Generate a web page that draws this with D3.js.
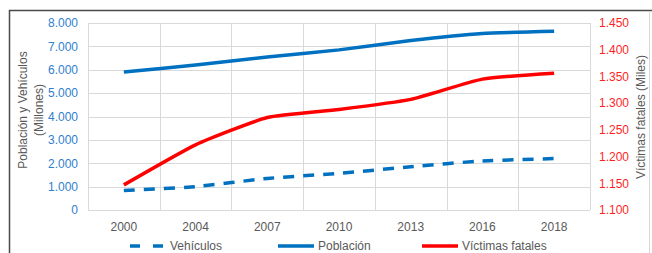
<!DOCTYPE html>
<html>
<head>
<meta charset="utf-8">
<script src="https://cdn.jsdelivr.net/npm/d3@7"></script>
<style>
  body { margin: 0; background: #fff; }
  svg text { font-family: "Liberation Sans", Arial, sans-serif; }
</style>
</head>
<body>
<script>
//////////////// data ////////////////
var years = ["2000", "2004", "2007", "2010", "2013", "2016", "2018"];
var vehiculos = [830, 1000, 1350, 1570, 1850, 2100, 2200];       // millones
var poblacion = [5900, 6200, 6550, 6850, 7250, 7550, 7650];      // millones
var victimas = [1147, 1222, 1273, 1288, 1307, 1345, 1356];       // miles
var leftTicks = [0, 1000, 2000, 3000, 4000, 5000, 6000, 7000, 8000];
var rightTicks = [1100, 1150, 1200, 1250, 1300, 1350, 1400, 1450];

var width = 652, height = 253;
var margin = {top: 23, right: 62, bottom: 43, left: 88};
var chartWidth = width - margin.left - margin.right;
var chartHeight = height - margin.top - margin.bottom;

var es = d3.formatLocale({decimal: ",", thousands: ".", grouping: [3], currency: ["", ""]});
var fmt = es.format(",");

var svg = d3.select("body").append("svg")
    .attr("width", width)
    .attr("height", height);

// outer frame like the screenshot
svg.append("path")
    .attr("d", "M9.5," + height + "V10.5H" + width)
    .attr("fill", "none")
    .attr("stroke", "#4a4a4a")
    .attr("stroke-width", 1.5);
svg.append("line")
    .attr("x1", 649.5).attr("x2", 649.5)
    .attr("y1", 11).attr("y2", height)
    .attr("stroke", "#d8d8d8");

var chartGroup = svg.append("g")
    .attr("transform", "translate(" + margin.left + "," + margin.top + ")");

var xScale = d3.scaleBand()
    .domain(years)
    .range([0, chartWidth]);

var yScale = d3.scaleLinear()
    .domain([0, 8000])
    .range([chartHeight, 0]);

var y2Scale = d3.scaleLinear()
    .domain([1100, 1450])
    .range([chartHeight, 0]);

// gridlines
chartGroup.append("g")
    .selectAll("line")
    .data(leftTicks)
    .enter().append("line")
    .attr("x1", 0).attr("x2", chartWidth)
    .attr("y1", function(d) { return Math.round(yScale(d)) + 0.5; })
    .attr("y2", function(d) { return Math.round(yScale(d)) + 0.5; })
    .attr("stroke", "#d9d9d9");

var vlines = d3.range(years.length + 1).map(function(i) { return i * xScale.step(); });
chartGroup.append("g")
    .selectAll("line")
    .data(vlines)
    .enter().append("line")
    .attr("x1", function(d) { return Math.round(d) + 0.5; })
    .attr("x2", function(d) { return Math.round(d) + 0.5; })
    .attr("y1", 0).attr("y2", chartHeight)
    .attr("stroke", "#d9d9d9");

// axes
var xAxis = d3.axisBottom(xScale).tickSize(0).tickPadding(12);
chartGroup.append("g")
    .attr("transform", "translate(0," + chartHeight + ")")
    .call(xAxis)
    .call(function(g) { g.select(".domain").remove(); })
    .selectAll("text")
    .attr("fill", "#595959")
    .style("font-size", "12px");

var yAxis = d3.axisLeft(yScale).tickValues(leftTicks).tickFormat(fmt).tickSize(0).tickPadding(10);
chartGroup.append("g")
    .call(yAxis)
    .call(function(g) { g.select(".domain").remove(); })
    .selectAll("text")
    .attr("fill", "#2f80cf")
    .style("font-size", "12px");

var y2Axis = d3.axisRight(y2Scale).tickValues(rightTicks).tickFormat(fmt).tickSize(0).tickPadding(9);
chartGroup.append("g")
    .attr("transform", "translate(" + chartWidth + ",0)")
    .call(y2Axis)
    .call(function(g) { g.select(".domain").remove(); })
    .selectAll("text")
    .attr("fill", "#ff1f1f")
    .style("font-size", "12px");

// axis titles
svg.append("text")
    .attr("transform", "translate(27,110) rotate(-90)")
    .attr("text-anchor", "middle")
    .attr("fill", "#595959")
    .style("font-size", "12px")
    .text("Población y Vehículos");
svg.append("text")
    .attr("transform", "translate(43,110) rotate(-90)")
    .attr("text-anchor", "middle")
    .attr("fill", "#595959")
    .style("font-size", "12px")
    .text("(Millones)");
svg.append("text")
    .attr("transform", "translate(645,117) rotate(-90)")
    .attr("text-anchor", "middle")
    .attr("fill", "#595959")
    .style("font-size", "12px")
    .text("Víctimas fatales (Miles)");

// lines
var xc = function(d, i) { return xScale(years[i]) + xScale.bandwidth() / 2; };
var leftLine = d3.line().x(xc).y(function(d) { return yScale(d); }).curve(d3.curveCardinal.tension(0.5));
var rightLine = d3.line().x(xc).y(function(d) { return y2Scale(d); }).curve(d3.curveCardinal.tension(0.5));

chartGroup.append("path")
    .attr("fill", "none")
    .attr("stroke", "#0070c0")
    .attr("stroke-width", 3.5)
    .attr("stroke-dasharray", "11,9")
    .attr("d", leftLine(vehiculos));

chartGroup.append("path")
    .attr("fill", "none")
    .attr("stroke", "#0070c0")
    .attr("stroke-width", 3.5)
    .attr("d", leftLine(poblacion));

chartGroup.append("path")
    .attr("fill", "none")
    .attr("stroke", "#ff0000")
    .attr("stroke-width", 3.5)
    .attr("d", rightLine(victimas));

// legend
var legendItems = [
    {name: "Vehículos", color: "#0070c0", dash: "10,13", x: 130},
    {name: "Población", color: "#0070c0", dash: null, x: 278},
    {name: "Víctimas fatales", color: "#ff0000", dash: null, x: 422}
];
var legend = svg.append("g").attr("transform", "translate(0,246)");
legend.selectAll("line")
    .data(legendItems)
    .enter().append("line")
    .attr("x1", function(d) { return d.x; })
    .attr("x2", function(d) { return d.x + 36; })
    .attr("y1", 0).attr("y2", 0)
    .attr("stroke", function(d) { return d.color; })
    .attr("stroke-width", 3.5)
    .attr("stroke-dasharray", function(d) { return d.dash; });
legend.selectAll("text")
    .data(legendItems)
    .enter().append("text")
    .attr("x", function(d) { return d.x + 40; })
    .attr("y", 4)
    .attr("fill", "#595959")
    .style("font-size", "12px")
    .text(function(d) { return d.name; });
</script>
</body>
</html>
